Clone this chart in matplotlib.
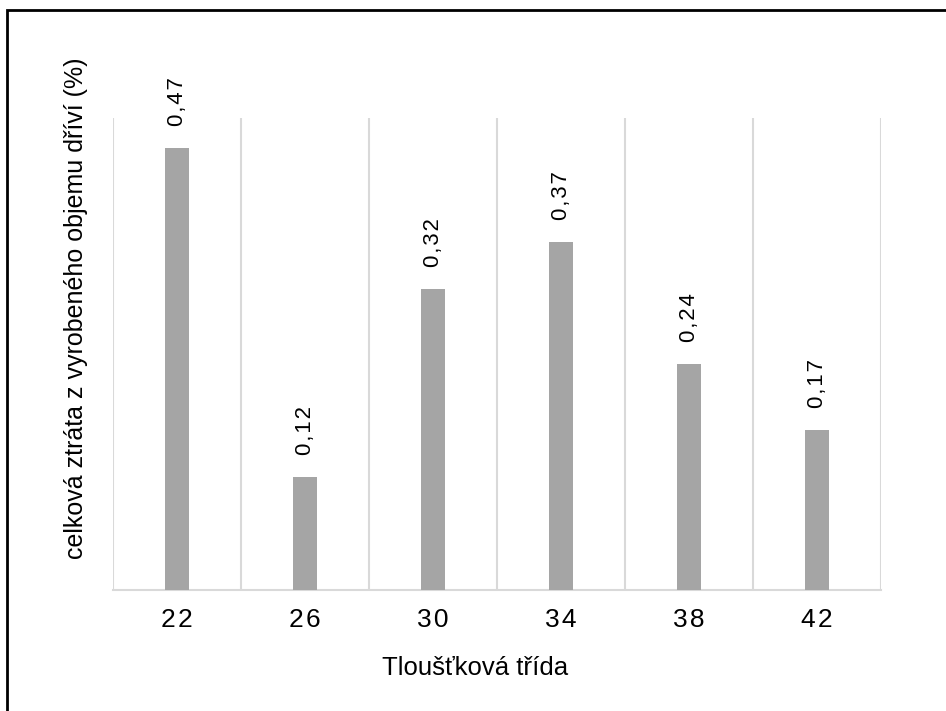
import matplotlib
matplotlib.use("Agg")
import matplotlib.pyplot as plt
from matplotlib.patches import Rectangle

categories = ["22", "26", "30", "34", "38", "42"]
values = [0.47, 0.12, 0.32, 0.37, 0.24, 0.17]
labels = ["0,47", "0,12", "0,32", "0,37", "0,24", "0,17"]

plt.rcParams['font.family'] = ['Liberation Sans', 'DejaVu Sans']

HS = "\u200a"
def spaced(s):
    return HS.join(s)

W, H = 946, 711
fig = plt.figure(figsize=(W/100, H/100), dpi=100)
ax = fig.add_axes([113/W, 1-590/H, (881-113)/W, (590-118)/H])

x = list(range(len(categories)))
ax.bar(x, values, width=0.185, color="#a5a5a5", zorder=3)
for xi, v, lab in zip(x, values, labels):
    ax.text(xi, v + 0.024, spaced(lab), rotation=90, ha="center", va="bottom",
            fontsize=16, color="black")

ax.set_xlim(-0.5, len(categories)-0.5)
ax.set_ylim(0, 0.502)
ax.set_xticks(x)
ax.set_xticklabels([spaced(c) for c in categories], fontsize=19)
ax.tick_params(axis="x", length=0, pad=13)
ax.set_yticks([])
for b in [i + 0.5 for i in range(-1, len(categories))]:
    ax.axvline(b, color="#d9d9d9", lw=1.5, zorder=1)
for s in ["top", "right", "left"]:
    ax.spines[s].set_visible(False)
ax.spines["bottom"].set_color("#d9d9d9")
ax.spines["bottom"].set_linewidth(1.5)

fig.text(475/W, 1-668/H, "Tloušťková třída", fontsize=18.5, ha="center", va="center")
fig.text(76/W, 1-308/H, "celková ztráta z vyrobeného objemu dříví (%)", fontsize=18,
         rotation=90, ha="center", va="center")

fig.patches.append(Rectangle((7/W, -0.01), 1.0, 1-10/H+0.01, transform=fig.transFigure,
                             fill=False, edgecolor="black", lw=2))

fig.savefig("out.png", dpi=100)
